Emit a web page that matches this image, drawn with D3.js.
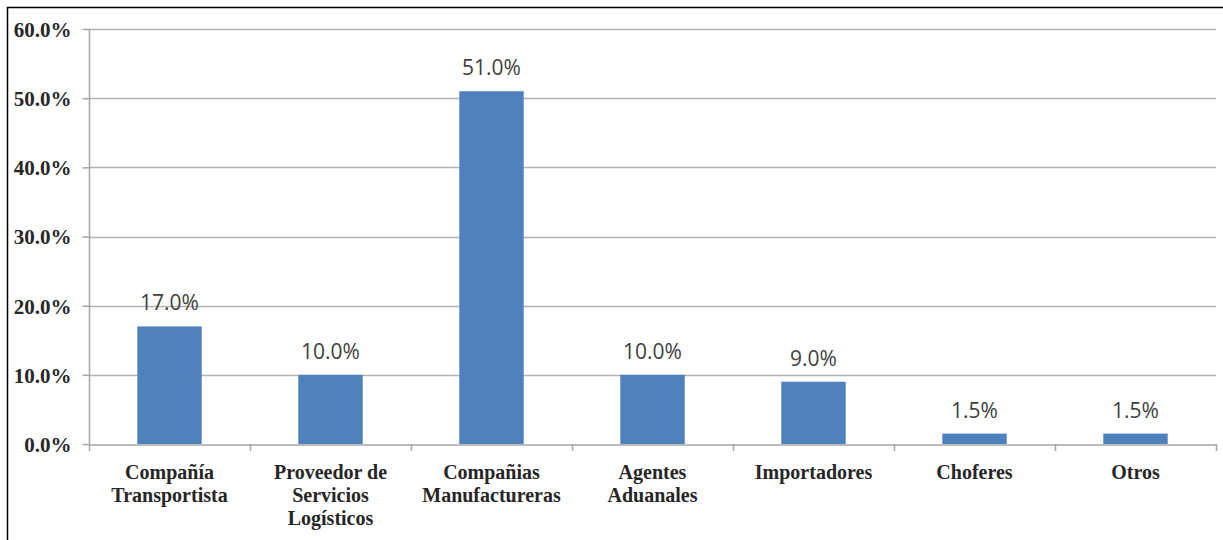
<!DOCTYPE html>
<html><head><meta charset="utf-8">
<script src="https://cdn.jsdelivr.net/npm/d3@7"></script>
<style>body{margin:0;background:#fff}svg{display:block}</style>
</head><body>
<svg id="c" width="1223" height="540"></svg>
<script>
const categories = [["Compañía","Transportista"],["Proveedor de","Servicios","Logísticos"],["Compañias","Manufactureras"],["Agentes","Aduanales"],["Importadores"],["Choferes"],["Otros"]];
const values = [17.0, 10.0, 51.0, 10.0, 9.0, 1.5, 1.5];
const labels = ["17.0%","10.0%","51.0%","10.0%","9.0%","1.5%","1.5%"];
const yTicks = [0,10,20,30,40,50,60];

const svg = d3.select("#c");
const mLeft = 89, mRight = 1216, mTop = 29, mBottom = 444;
const x = d3.scaleBand().domain(d3.range(values.length)).range([mLeft, mRight]).padding(0);
const y = d3.scaleLinear().domain([0,60]).range([mBottom, mTop]);

// frame
svg.append("line").attr("x1",7.5).attr("x2",7.5).attr("y1",7).attr("y2",540).attr("stroke","#000").attr("stroke-width",1.5);
svg.append("line").attr("x1",7).attr("x2",1223).attr("y1",7.5).attr("y2",7.5).attr("stroke","#000").attr("stroke-width",1.5);

// grid
svg.append("g").selectAll("line").data(yTicks.filter(d=>d>0)).join("line")
  .attr("x1",mLeft).attr("x2",mRight).attr("y1",d=>Math.round(y(d))+0.5).attr("y2",d=>Math.round(y(d))+0.5)
  .attr("stroke","#b3b3b3").attr("stroke-width",1.5);

// y axis
const ya = svg.append("g").attr("transform",`translate(${mLeft+0.5},0)`)
  .call(d3.axisLeft(y).tickValues(yTicks).tickSize(7).tickFormat(d=>d.toFixed(1)+"%"));
ya.select(".domain").attr("stroke","#a6a6a6").attr("stroke-width",1.5).attr("d",`M0,${mTop}V${mBottom}`);
ya.selectAll(".tick line").attr("stroke","#a6a6a6").attr("stroke-width",1.5);
ya.selectAll(".tick text").attr("x",-18).attr("dy","0.35em")
  .attr("font-family","Liberation Serif").attr("font-weight","bold").attr("font-size",21).attr("fill","#262626");

// x axis
const xa = svg.append("g").attr("transform",`translate(0,${mBottom+0.5})`)
  .call(d3.axisBottom(x).tickSize(0).tickFormat(""));
xa.select(".domain").attr("stroke","#a6a6a6").attr("stroke-width",1.5);
svg.append("g").selectAll("line").data(d3.range(values.length+1)).join("line")
  .attr("x1",i=>Math.round(mLeft + i*x.step())+0.5).attr("x2",i=>Math.round(mLeft + i*x.step())+0.5)
  .attr("y1",mBottom).attr("y2",mBottom+7).attr("stroke","#a6a6a6").attr("stroke-width",1.5);

// bars
const bw = x.bandwidth()*0.4;
svg.append("g").selectAll("rect").data(values).join("rect")
  .attr("x",(d,i)=>x(i)+x.bandwidth()/2-bw/2).attr("width",bw)
  .attr("y",d=>y(d)).attr("height",d=>y(0)-y(d))
  .attr("fill","#4f81bd");

// data labels
svg.append("g").selectAll("text").data(values).join("text")
  .attr("x",(d,i)=>x(i)+x.bandwidth()/2).attr("y",d=>y(d)-16)
  .attr("text-anchor","middle").attr("font-family","Open Sans").attr("font-size",21).attr("fill","#404040")
  .text((d,i)=>labels[i]);

// category labels
const cl = svg.append("g").selectAll("text").data(categories).join("text")
  .attr("x",(d,i)=>x(i)+x.bandwidth()/2).attr("y",479)
  .attr("text-anchor","middle").attr("font-family","Liberation Serif").attr("font-weight","bold")
  .attr("font-size",20).attr("fill","#262626");
cl.selectAll("tspan").data(d=>d).join("tspan")
  .attr("x",function(){return this.parentNode.getAttribute("x");})
  .attr("dy",(d,j)=>j===0?0:"1.15em").text(d=>d);
</script>
</body></html>
